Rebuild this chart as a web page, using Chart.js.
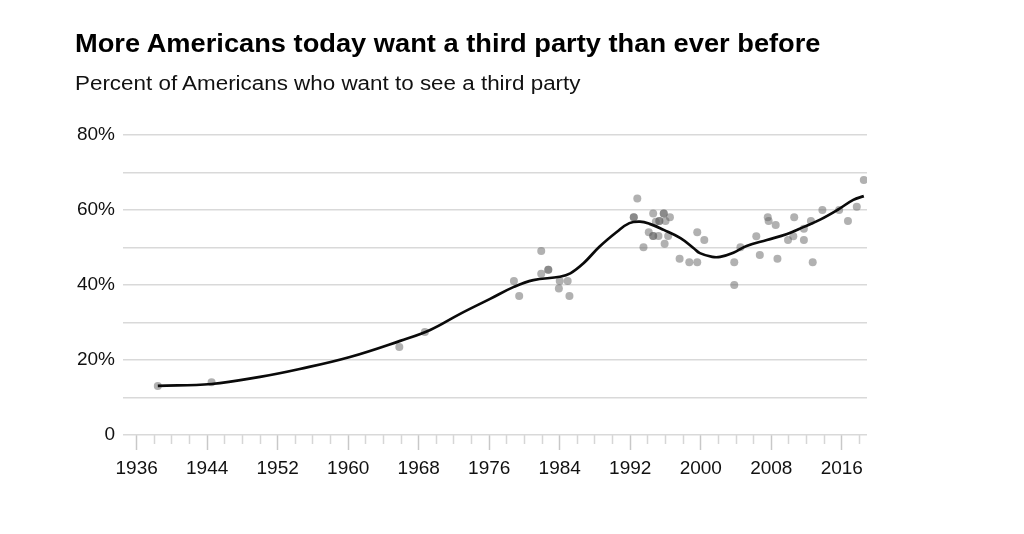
<!DOCTYPE html>
<html>
<head>
<meta charset="utf-8">
<script src="https://cdn.jsdelivr.net/npm/chart.js@4"></script>
<style>
  html, body { margin: 0; padding: 0; background: #fff; }
  #wrap { position: relative; width: 1024px; height: 534px; overflow: hidden; }
  #title { position: absolute; left: 75px; top: 29px; font-family: "Liberation Sans", Arial, sans-serif; font-weight: bold; font-size: 25px; color: #000; white-space: nowrap; transform-origin: 0 0; transform: scaleX(1.09); }
  #subtitle { position: absolute; left: 75px; top: 72px; font-family: "Liberation Sans", Arial, sans-serif; font-size: 20px; color: #111; white-space: nowrap; transform-origin: 0 0; transform: scaleX(1.12); }
  canvas { position: absolute; left: 0; top: 0; }
</style>
</head>
<body>
<div id="wrap">
  <canvas id="c" width="1024" height="534"></canvas>
  <div id="title">More Americans today want a third party than ever before</div>
  <div id="subtitle">Percent of Americans who want to see a third party</div>
</div>
<script>
// Survey responses (year, percent)
const pollYears = [1938.4, 1944.5, 1965.8, 1968.7, 1978.8, 1979.4, 1981.9, 1981.9, 1982.7, 1982.7,
  1984.0, 1983.9, 1984.9, 1985.1, 1992.8, 1992.4, 1992.4, 1993.5, 1994.6, 1995.8, 1995.8, 1996.5,
  1994.1, 1994.6, 1994.6, 1995.3, 1995.3, 1994.9, 1995.2, 1996.3, 1995.9, 1996.0, 1997.6, 1998.7,
  1999.6, 1999.6, 2000.4, 2003.8, 2003.8, 2004.5, 2006.3, 2006.7, 2007.6, 2007.7, 2008.5, 2008.7,
  2009.9, 2010.5, 2010.6, 2011.7, 2011.7, 2012.5, 2012.7, 2013.8, 2015.7, 2016.7, 2017.7, 2018.5];
const pollValues = [13.1, 14.1, 23.5, 27.5, 41.1, 37.1, 49.1, 43.0, 44.1, 44.1,
  41.1, 39.1, 41.1, 37.1, 63.1, 58.1, 58.1, 50.1, 59.1, 59.1, 59.1, 58.1,
  54.1, 53.1, 53.1, 57.1, 57.1, 56.9, 53.1, 53.1, 51.0, 57.1, 47.0, 46.1,
  46.1, 54.1, 52.0, 46.1, 40.0, 50.1, 53.0, 48.0, 58.1, 57.1, 56.0, 47.0,
  52.0, 53.0, 58.1, 55.0, 52.0, 57.1, 46.1, 60.0, 60.0, 57.1, 60.9, 68.0];

// Smoothed trend line (year, percent)
const trendYears = [1938.4, 1944.5, 1950.0, 1954.5, 1960.2, 1965.9, 1969.3, 1972.7, 1976.1, 1978.8,
  1981.0, 1984.0, 1985.2, 1986.7, 1988.5, 1990.5, 1991.9, 1993.1, 1994.2, 1995.8, 1997.7, 1999.2,
  1999.9, 2001.3, 2002.2, 2003.7, 2005.2, 2007.5, 2009.8, 2011.7, 2013.6, 2015.5, 2017.3, 2018.5];
const trendValues = [13.1, 13.6, 15.5, 17.6, 20.8, 25.1, 28.0, 32.3, 36.3, 39.5,
  41.3, 42.2, 43.1, 45.8, 50.2, 54.2, 56.5, 56.9, 56.3, 54.7, 52.5, 49.8,
  48.5, 47.5, 47.5, 48.6, 50.4, 52.0, 53.6, 55.5, 57.5, 60.0, 62.7, 63.7];

// Axis ticks
const xTickYears = [];
for (let y = 1936; y <= 2018; y += 2) xTickYears.push(y);
const xLabelYears = [1936, 1944, 1952, 1960, 1968, 1976, 1984, 1992, 2000, 2008, 2016];
const yLabelValues = [0, 20, 40, 60, 80];

const FONT = '"Liberation Sans", Arial, sans-serif';

new Chart(document.getElementById('c'), {
  type: 'scatter',
  data: {
    datasets: [
      {
        type: 'line',
        data: trendYears.map((x, i) => ({ x, y: trendValues[i] })),
        borderColor: '#0a0a0a',
        borderWidth: 2.7,
        pointRadius: 0,
        tension: 0.4,
        fill: false,
        order: 0
      },
      {
        type: 'scatter',
        data: pollYears.map((x, i) => ({ x, y: pollValues[i] })),
        backgroundColor: 'rgba(100,100,100,0.5)',
        borderWidth: 0,
        pointRadius: 4,
        order: 1
      }
    ]
  },
  options: {
    responsive: false,
    animation: false,
    events: [],
    layout: { padding: { left: 0, right: 157, top: 135, bottom: 0 } },
    plugins: { legend: { display: false }, tooltip: { enabled: false }, title: { display: false } },
    scales: {
      x: {
        type: 'linear',
        min: 1934.45,
        max: 2018.86,
        afterBuildTicks: (scale) => { scale.ticks = xTickYears.map(v => ({ value: v })); },
        afterFit: (scale) => { scale.height = 99; },
        border: { display: false },
        grid: {
          drawOnChartArea: false,
          drawTicks: true,
          tickLength: 15,
          tickWidth: 1.5,
          tickColor: (ctx) => xLabelYears.includes(ctx.tick && ctx.tick.value) ? '#c8c8c8' : '#d6d6d6',
          tickBorderDash: (ctx) => xLabelYears.includes(ctx.tick && ctx.tick.value) ? [] : [9, 100]
        },
        ticks: {
          autoSkip: false,
          maxRotation: 0,
          padding: 7,
          color: '#111',
          font: { family: FONT, size: 19 },
          callback: (v) => xLabelYears.includes(v) ? String(v) : ''
        }
      },
      y: {
        min: 0,
        max: 80,
        afterFit: (scale) => { scale.width = 123; },
        border: { display: false },
        grid: { drawTicks: false, color: '#d9d9d9', lineWidth: 1.5 },
        ticks: {
          stepSize: 10,
          padding: 8,
          color: '#111',
          font: { family: FONT, size: 19 },
          callback: (v) => yLabelValues.includes(v) ? (v === 0 ? '0' : v + '%') : ''
        }
      }
    }
  }
});
</script>
</body>
</html>
